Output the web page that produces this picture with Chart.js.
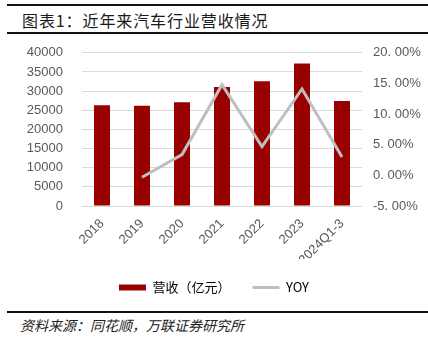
<!DOCTYPE html>
<html>
<head>
<meta charset="utf-8">
<script src="https://cdn.jsdelivr.net/npm/chart.js@4/dist/chart.umd.min.js"></script>
<style>
  html, body { margin: 0; padding: 0; background: #fff; }
  body { width: 428px; height: 340px; position: relative; overflow: hidden; }
  .rule { position: absolute; left: 7px; width: 421px; height: 2px; background: #111; }
  #title { position: absolute; left: 22px; top: 8px; font: 16px "Noto Sans CJK SC", sans-serif; letter-spacing: 0.9px; color: #1a1a1a; white-space: nowrap; }
  #source { position: absolute; left: 20px; top: 315px; font: italic 14px "Noto Sans CJK SC", sans-serif; color: #222; white-space: nowrap; }
  #wrap { position: absolute; left: 0; top: 26px; width: 428px; height: 278px; }
</style>
</head>
<body>
<div class="rule" style="top:4px"></div>
<div id="title">图表1：近年来汽车行业营收情况</div>
<div class="rule" style="top:32px"></div>
<div id="wrap"><canvas id="c" width="428" height="278"></canvas></div>
<div class="rule" style="top:311px"></div>
<div id="source">资料来源：同花顺，万联证券研究所</div>
<script>
// Categories and series
const categories = ['2018', '2019', '2020', '2021', '2022', '2023', '2024Q1-3'];
const revenue = [26300, 26200, 27100, 31100, 32600, 37200, 27400];   // 营收（亿元）
const yoy = [null, -0.3, 3.4, 14.8, 4.7, 14.1, 3.0];                  // YOY, %
const revenueTicks = [0, 5000, 10000, 15000, 20000, 25000, 30000, 35000, 40000];
const yoyTicks = [-5, 0, 5, 10, 15, 20];

const BAR_RED = '#990000';
const LINE_GREY = '#BFBFBF';
const TICK_GREY = '#595959';
const TICK_FONT = { family: '"Liberation Sans", Arial, sans-serif', size: 13 };

// Keep the legend band at a fixed height so the plot area stays put
const fixedLegendHeight = {
  id: 'fixedLegendHeight',
  beforeLayout(chart) {
    if (chart.legend) chart.legend.afterFit = function () { this.height = 46; };
  }
};

new Chart(document.getElementById('c'), {
  plugins: [fixedLegendHeight],
  data: {
    labels: categories,
    datasets: [
      {
        type: 'bar',
        label: '营收（亿元）',
        data: revenue,
        backgroundColor: BAR_RED,
        borderWidth: 0,
        barPercentage: 0.4,
        categoryPercentage: 1.0,
        yAxisID: 'y',
        order: 2
      },
      {
        type: 'line',
        label: 'YOY',
        data: yoy,
        borderColor: LINE_GREY,
        backgroundColor: LINE_GREY,
        borderWidth: 3,
        pointRadius: 0,
        tension: 0,
        yAxisID: 'y1',
        order: 1
      }
    ]
  },
  options: {
    responsive: false,
    devicePixelRatio: 1,
    animation: false,
    layout: { autoPadding: false, padding: { top: 13, left: 0, right: 0, bottom: 0 } },
    plugins: {
      tooltip: { enabled: false },
      legend: {
        position: 'bottom',
        labels: {
          usePointStyle: true,
          pointStyleWidth: 27,
          boxHeight: 6,
          padding: 22,
          color: TICK_GREY,
          font: { family: '"Noto Sans CJK SC", sans-serif', size: 13 },
          generateLabels: () => [
            { text: '营收（亿元）', fillStyle: BAR_RED, strokeStyle: BAR_RED, lineWidth: 0, pointStyle: 'rect', datasetIndex: 0 },
            { text: 'YOY', fillStyle: LINE_GREY, strokeStyle: LINE_GREY, lineWidth: 3, pointStyle: 'line', datasetIndex: 1 }
          ]
        }
      }
    },
    scales: {
      x: {
        grid: { display: false },
        border: { display: false },
        afterFit: s => { s.height = 53; },
        ticks: { color: TICK_GREY, font: TICK_FONT, minRotation: 45, maxRotation: 45, padding: 2, autoSkip: false }
      },
      y: {
        position: 'left',
        min: revenueTicks[0],
        max: revenueTicks[revenueTicks.length - 1],
        afterBuildTicks: s => { s.ticks = revenueTicks.map(v => ({ value: v })); },
        afterFit: s => { s.width = 82; },
        grid: { color: '#D9D9D9', lineWidth: 1, drawTicks: false },
        border: { display: false },
        ticks: { color: TICK_GREY, font: TICK_FONT, padding: 19, autoSkip: false, callback: v => String(v) }
      },
      y1: {
        position: 'right',
        min: yoyTicks[0],
        max: yoyTicks[yoyTicks.length - 1],
        afterBuildTicks: s => { s.ticks = yoyTicks.map(v => ({ value: v })); },
        afterFit: s => { s.width = 66; },
        grid: { display: false, drawTicks: false },
        border: { display: false },
        ticks: {
          color: TICK_GREY, font: TICK_FONT, padding: 11, autoSkip: false,
          callback: v => v.toFixed(2).replace('.', '. ') + '%'
        }
      }
    }
  }
});
</script>
</body>
</html>
